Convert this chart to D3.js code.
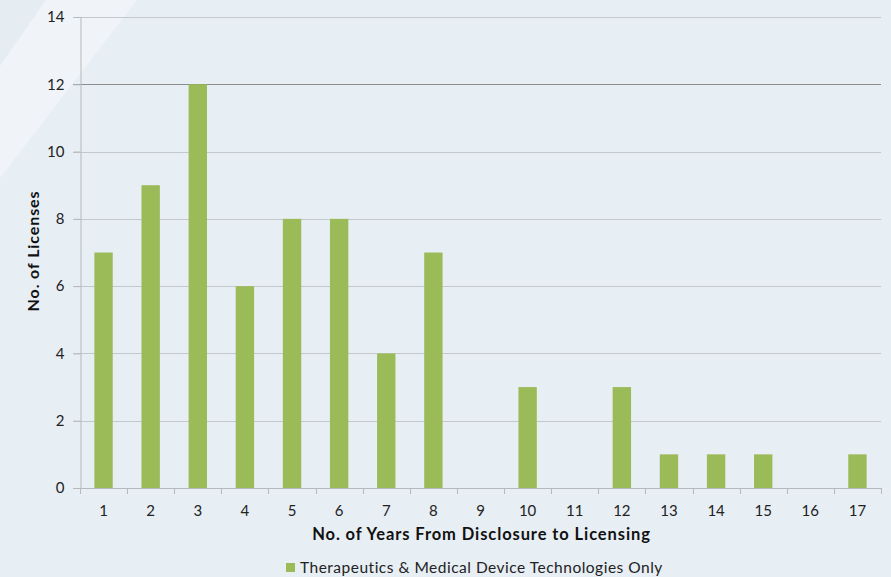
<!DOCTYPE html>
<html><head><meta charset="utf-8">
<script src="https://cdn.jsdelivr.net/npm/d3@7"></script>
<style>
html,body{margin:0;padding:0;background:#e7eef4;}
svg{display:block;font-family:Lato,"Open Sans",sans-serif;}
</style></head>
<body>
<svg id="c" width="891" height="577"></svg>
<script>
const years = ["1","2","3","4","5","6","7","8","9","10","11","12","13","14","15","16","17"];
const licenses = [7,9,12,6,8,8,4,7,0,3,0,3,1,1,1,0,1];
const yTicks = [0,2,4,6,8,10,12,14];
const seriesName = "Therapeutics & Medical Device Technologies Only";
const xTitle = "No. of Years From Disclosure to Licensing";
const yTitle = "No. of Licenses";

const svg = d3.select("#c");
const W = 891, H = 577;
const m = {left:80, right:10, top:17, bottom:89};

svg.append("rect").attr("width",W).attr("height",H).attr("fill","#e7eef4");
// decorative diagonal band
svg.append("path").attr("d","M0,0 L137,0 L0,178 Z").attr("fill","#f0f4f8");
svg.append("path").attr("d","M0,0 L46,0 L0,66 Z").attr("fill","#e5edf3");

const x = d3.scaleBand().domain(years).range([m.left, W-m.right]).paddingInner(0.61).paddingOuter(0.305);
const xb = d3.scaleBand().domain(years).range([m.left, W-m.right]);
const y = d3.scaleLinear().domain([0,14]).range([H-m.bottom, m.top]);

// gridlines
svg.append("g").selectAll("line").data(yTicks.filter(d=>d>0)).join("line")
  .attr("x1",m.left-7).attr("x2",W-m.right)
  .attr("y1",d=>Math.round(y(d))+0.5).attr("y2",d=>Math.round(y(d))+0.5)
  .attr("stroke",d=>d===12?"#8c8c8c":"#c4c8cb").attr("stroke-width",1);

// y axis
const ya = svg.append("g").attr("transform",`translate(${m.left+0.5},0)`)
  .call(d3.axisLeft(y).tickValues(yTicks).tickSize(7).tickPadding(9));
ya.select(".domain").attr("stroke","#b5b9bc");
ya.selectAll(".tick line").attr("stroke","#b5b9bc");
ya.selectAll(".tick text").attr("font-size",15).attr("fill","#222").attr("font-family","Lato");

// bars
svg.append("g").selectAll("rect").data(licenses).join("rect")
  .attr("x",(d,i)=>x(years[i])).attr("width",x.bandwidth())
  .attr("y",d=>y(d)).attr("height",d=>y(0)-y(d))
  .attr("fill","#9bbb59");

// x axis
const xa = svg.append("g").attr("transform",`translate(0,${Math.round(y(0))+0.5})`)
  .call(d3.axisBottom(x).tickSize(0).tickPadding(17));
xa.select(".domain").remove();
xa.selectAll(".tick text").attr("font-size",15).attr("fill","#222").attr("font-family","Lato");
svg.append("line").attr("x1",m.left-7).attr("x2",W-m.right)
  .attr("y1",Math.round(y(0))+0.5).attr("y2",Math.round(y(0))+0.5).attr("stroke","#b5b9bc");
svg.append("g").selectAll("line").data(years.concat(["end"])).join("line")
  .attr("x1",(d,i)=>Math.round(m.left + i*xb.step())+0.5)
  .attr("x2",(d,i)=>Math.round(m.left + i*xb.step())+0.5)
  .attr("y1",Math.round(y(0))).attr("y2",Math.round(y(0))+6)
  .attr("stroke","#b5b9bc");

// titles
svg.append("text").attr("x",(m.left+W-m.right)/2 + 1).attr("y",540).attr("text-anchor","middle")
  .attr("font-size",16.5).attr("letter-spacing",0.9).attr("font-weight","bold").attr("fill","#111").text(xTitle);
svg.append("text").attr("transform","translate(39,251) rotate(-90)").attr("text-anchor","middle")
  .attr("font-size",16).attr("letter-spacing",0.9).attr("font-weight","bold").attr("fill","#111").text(yTitle);

// legend
const lg = svg.append("g");
lg.append("rect").attr("x",286).attr("y",563).attr("width",9).attr("height",9).attr("fill","#9bbb59");
lg.append("text").attr("x",300).attr("y",573).attr("font-size",15.5).attr("letter-spacing",0.5).attr("fill","#222").text(seriesName);
</script>
</body></html>
